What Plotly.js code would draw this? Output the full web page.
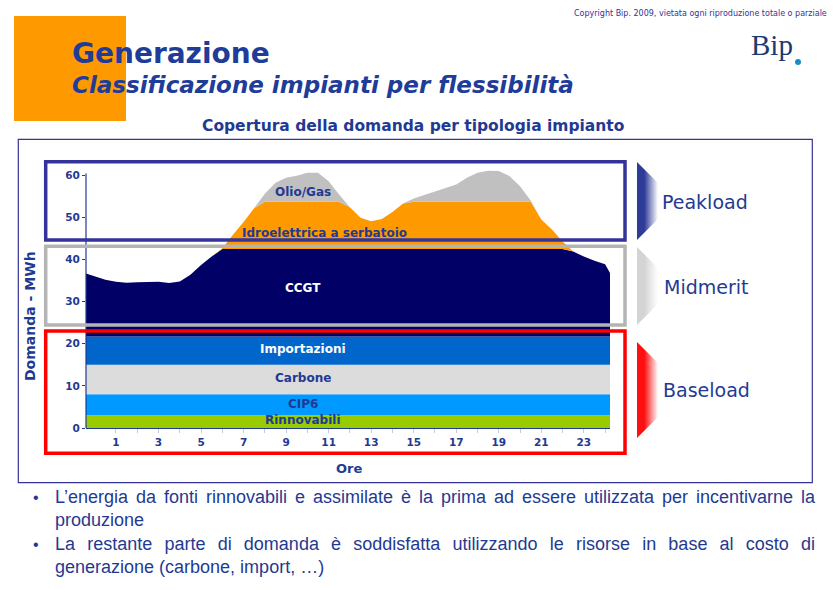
<!DOCTYPE html>
<html>
<head>
<meta charset="utf-8">
<script src="https://cdn.plot.ly/plotly-3.0.1.min.js"></script>
<style>html,body{margin:0;padding:0;background:#fff;}#chart{width:836px;height:590px;}</style>
</head>
<body>
<div id="chart"></div>
<script>
// Hours (half-hour samples)
var ore = [-0.5,0,0.5,1,1.5,2,2.5,3,3.5,4,4.5,5,5.5,6,6.5,7,7.5,8,8.5,9,9.5,10,10.5,11,11.5,12,12.5,13,13.5,14,14.5,15,15.5,16,16.5,17,17.5,18,18.5,19,19.5,20,20.5,21,21.5,22,22.5,23,23.5,24,24.5];
var tickOre = [1,3,5,7,9,11,13,15,17,19,21,23];
var tickOreMinor = [2,4,6,8,10,12,14,16,18,20,22,24];
var tickDomanda = [0,10,20,30,40,50,60];

// Series (MWh)
var rinnovabili = [3,3,3,3,3,3,3,3,3,3,3,3,3,3,3,3,3,3,3,3,3,3,3,3,3,3,3,3,3,3,3,3,3,3,3,3,3,3,3,3,3,3,3,3,3,3,3,3,3,3,3];
var cip6 = [5,5,5,5,5,5,5,5,5,5,5,5,5,5,5,5,5,5,5,5,5,5,5,5,5,5,5,5,5,5,5,5,5,5,5,5,5,5,5,5,5,5,5,5,5,5,5,5,5,5,5];
var carbone = [7,7,7,7,7,7,7,7,7,7,7,7,7,7,7,7,7,7,7,7,7,7,7,7,7,7,7,7,7,7,7,7,7,7,7,7,7,7,7,7,7,7,7,7,7,7,7,7,7,7,7];
var importazioni = [6.7,6.7,6.7,6.7,6.7,6.7,6.7,6.7,6.7,6.7,6.7,6.7,6.7,6.7,6.7,6.7,6.7,6.7,6.7,6.7,6.7,6.7,6.7,6.7,6.7,6.7,6.7,6.7,6.7,6.7,6.7,6.7,6.7,6.7,6.7,6.7,6.7,6.7,6.7,6.7,6.7,6.7,6.7,6.7,6.7,6.7,6.7,6.7,6.7,6.7,6.7];
var ccgt = [15.1,14.3,13.5,13.0,12.8,12.9,13.0,13.0,12.7,13.1,14.7,17.0,19.0,
  20.8,20.8,20.8,20.8,20.8,20.8,20.8,20.8,20.8,20.8,20.8,20.8,20.8,20.8,20.8,20.8,20.8,20.8,20.8,20.8,20.8,20.8,20.8,20.8,20.8,20.8,20.8,20.8,20.8,20.8,20.8,20.8,20.8,
  20.2,19.0,18.0,17.2,12.6];
var idro = [0,0,0,0,0,0,0,0,0,0,0,0,0,
  0.2,3.4,6.4,9.7,11.2,11.2,11.2,11.2,11.2,11.2,11.2,11.2,
  9.9,7.4,6.6,7.1,8.8,10.8,
  11.2,
  11.2,11.2,11.2,11.2,11.2,11.2,11.2,11.2,11.2,11.2,11.2,
  7.0,4.6,1.8,
  0,0,0,0,0];
var olioGas = [0,0,0,0,0,0,0,0,0,0,0,0,0,0,0,0,0,
  1.9,4.5,5.7,6.2,6.9,6.9,4.9,1.7,
  0,0,0,0,0,0,
  0.8,1.6,2.4,3.2,4.1,5.7,6.9,7.4,7.3,6.1,3.7,0.3,
  0,0,0,0,0,0,0,0];

var serieNomi = ['Rinnovabili','CIP6','Carbone','Importazioni','CCGT','Idroelettrica a serbatoio','Olio/Gas'];
var serieValori = [rinnovabili, cip6, carbone, importazioni, ccgt, idro, olioGas];
var serieColori = ['#99cc00','#0099ff','#dcdcdc','#0066cc','#000066','#ff9900','#c0c0c0'];

var BLUE = '#1f3a93';
var traces = [];
for (var i = 0; i < serieNomi.length; i++) {
  traces.push({
    type: 'scatter', mode: 'lines', x: ore, y: serieValori[i], name: serieNomi[i],
    stackgroup: 'dom', fillcolor: serieColori[i], line: {width: 0, color: serieColori[i]},
    hoverinfo: 'skip', xaxis: 'x', yaxis: 'y'
  });
}

// Decorative arrows (page pixel axes)
function arrow(y0, y1, col) {
  return {type:'scatter', mode:'lines', xaxis:'x2', yaxis:'y2', hoverinfo:'skip',
    x:[637,658,658,637,637], y:[y0, y0+21, y1-21, y1, y0], fill:'toself',
    line:{width:0}, fillgradient:{type:'horizontal', colorscale:[[0,col],[0.35,col],[1,'rgba(255,255,255,1)']]}};
}
traces.push(arrow(162, 240, '#2e3c99'));
traces.push(arrow(247, 325, '#d4d4d4'));
traces.push(arrow(342, 438, '#ff1010'));

var F = 'DejaVu Sans';
var LS = 'Liberation Sans';
function pa(x, y, text, size, opts) {
  var a = {xref:'x2', yref:'y2', x:x, y:y, text:text, showarrow:false,
    font:{family:F, size:size, color:BLUE}, xanchor:'left', yanchor:'middle'};
  for (var k in (opts||{})) a[k] = opts[k];
  return a;
}
function da(x, y, text, color, size) {
  return {xref:'x', yref:'y', x:x, y:y, text:'<b>'+text+'</b>', showarrow:false,
    font:{family:F, size:size||12, color:color}, xanchor:'center', yanchor:'middle'};
}

var annotations = [
  pa(829, 13, 'Copyright Bip. 2009, vietata ogni riproduzione totale o parziale', 8, {xanchor:'right', font:{family:F, size:8, color:'#333399'}}),
  pa(749, 45, 'Bip', 29, {font:{family:'Liberation Serif', size:29, color:'#1b3a6f'}}),
  pa(70, 53, '<b>Generazione</b>', 28, {font:{family:F, size:28, color:'#1f3c99'}}),
  pa(70, 85, '<b><i>Classificazione impianti per flessibilità</i></b>', 23, {font:{family:F, size:23, color:'#1f3c99'}}),
  pa(413, 126, '<b>Copertura della domanda per tipologia impianto</b>', 15.5, {xanchor:'center'}),
  pa(30, 316, '<b>Domanda - MWh</b>', 14, {xanchor:'center', textangle:-90}),
  pa(349, 468, '<b>Ore</b>', 13, {xanchor:'center'}),
  pa(660, 202, 'Peakload', 19),
  pa(662, 287, 'Midmerit', 19),
  pa(661, 390, 'Baseload', 19),
  pa(31, 497, '•', 16, {font:{family:LS, size:16, color:BLUE}}),
  pa(53, 497, 'L\u2019energia da fonti rinnovabili e assimilate è la prima ad essere utilizzata per incentivarne la', 18, {align:'left', font:{family:LS, size:18, color:BLUE}}),
  pa(53, 520, 'produzione', 18, {align:'left', font:{family:LS, size:18, color:BLUE}}),
  pa(31, 544, '•', 16, {font:{family:LS, size:16, color:BLUE}}),
  pa(53, 544, 'La restante parte di domanda è soddisfatta utilizzando le risorse in base al costo di', 18, {align:'left', font:{family:LS, size:18, color:BLUE}}),
  pa(53, 567, 'generazione (carbone, import, \u2026)', 18, {align:'left', font:{family:LS, size:18, color:BLUE}}),
  da(9.8, 56.0, 'Olio/Gas', BLUE),
  da(10.8, 46.4, 'Idroelettrica a serbatoio', BLUE),
  da(9.8, 33.2, 'CCGT', '#ffffff'),
  da(9.8, 18.8, 'Importazioni', '#ffffff'),
  da(9.8, 11.9, 'Carbone', BLUE),
  da(9.8, 5.7, 'CIP6', BLUE),
  da(9.8, 1.9, 'Rinnovabili', BLUE)
];

var shapes = [
  {type:'rect', xref:'x2', yref:'y2', x0:14, x1:126, y0:16, y1:121, fillcolor:'#ff9900', line:{width:0}, layer:'below'},
  {type:'circle', xref:'x2', yref:'y2', x0:795, x1:801, y0:59, y1:65, fillcolor:'#1a8cc8', line:{width:0}},
  {type:'rect', xref:'x2', yref:'y2', x0:18.3, x1:812.3, y0:139.3, y1:482.7, line:{color:'#333399', width:1.2}},
  {type:'line', xref:'x domain', yref:'y', x0:0, x1:0, y0:0, y1:60.4, line:{color:BLUE, width:1.2}},
  {type:'rect', xref:'x2', yref:'y2', x0:45.7, x1:625, y0:161.7, y1:240, line:{color:'#333399', width:3.5}},
  {type:'rect', xref:'x2', yref:'y2', x0:45.7, x1:625, y0:246.3, y1:325, line:{color:'#b4b4b4', width:3.5}},
  {type:'rect', xref:'x2', yref:'y2', x0:45.7, x1:625, y0:331, y1:453.3, line:{color:'#ff0000', width:3.5}}
];

var tf = {family:F, size:10.5, color:BLUE, weight:'bold'};
var layout = {
  width:836, height:590, showlegend:false,
  margin:{l:0, r:0, t:0, b:0, pad:0, autoexpand:false},
  paper_bgcolor:'#ffffff', plot_bgcolor:'rgba(0,0,0,0)',
  xaxis:{domain:[86/836, 610/836], range:[-0.41, 24.23], anchor:'y',
    tickvals:tickOre, ticktext:tickOre.map(String), ticks:'outside', ticklen:4, tickcolor:'#c8c8d8',
    minor:{tickvals:tickOreMinor, ticks:'outside', ticklen:4, tickcolor:'#c8c8d8'},
    showline:true, linecolor:BLUE, linewidth:1.2, showgrid:false, zeroline:false, tickfont:tf, fixedrange:true},
  yaxis:{domain:[162/590, 424/590], range:[0, 62.2], anchor:'x',
    tickvals:tickDomanda, ticks:'outside', ticklen:3, tickcolor:BLUE,
    showline:false, showgrid:false, zeroline:false, tickfont:tf, fixedrange:true},
  xaxis2:{domain:[0,1], range:[0,836], anchor:'y2', visible:false, fixedrange:true},
  yaxis2:{domain:[0,1], range:[590,0], anchor:'x2', visible:false, fixedrange:true},
  annotations:annotations, shapes:shapes
};

Plotly.newPlot('chart', traces, layout, {staticPlot:true, displayModeBar:false}).then(function () {
  // justify the two full bullet lines like the original slide
  var texts = document.querySelectorAll('g.annotation text');
  texts.forEach(function (t) {
    var s = t.textContent;
    if (s.indexOf('L\u2019energia') === 0 || s.indexOf('La restante') === 0) {
      var w = t.getComputedTextLength();
      var n = (s.match(/ /g) || []).length;
      var extra = (760 - w) / n;
      if (extra > 0) t.style.wordSpacing = extra + 'px';
    }
  });
});
</script>
</body>
</html>
